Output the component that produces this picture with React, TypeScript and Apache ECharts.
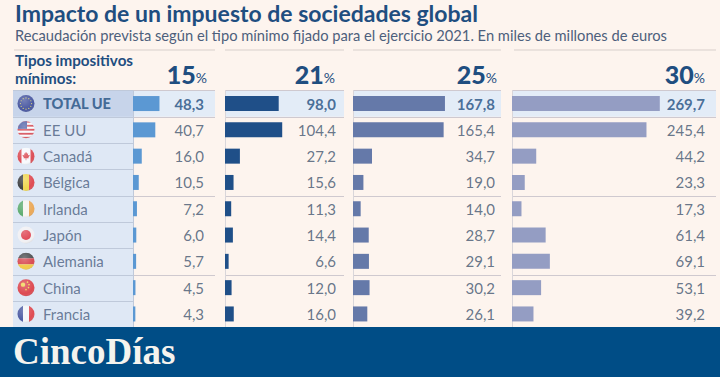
import React, { useEffect, useRef } from "react";
import * as echarts from "echarts";

const countries = ["TOTAL UE", "EE UU", "Canadá", "Bélgica", "Irlanda", "Japón", "Alemania", "China", "Francia"];
const rates = ["15", "21", "25", "30"];
const v15 = [48.3, 40.7, 16.0, 10.5, 7.2, 6.0, 5.7, 4.5, 4.3];
const v21 = [98.0, 104.4, 27.2, 15.6, 11.3, 14.4, 6.6, 12.0, 16.0];
const v25 = [167.8, 165.4, 34.7, 19.0, 14.0, 28.7, 29.1, 30.2, 26.1];
const v30 = [269.7, 245.4, 44.2, 23.3, 17.3, 61.4, 69.1, 53.1, 39.2];
const allValues = [v15, v21, v25, v30];
const barColors = ["#5b98d3", "#1f4f88", "#6579a9", "#949dc3"];

const W = 720, H = 377;
const TOP = 90.4, ROW = 26.3;
const PX_PER_UNIT = 0.548;
const colLeft = [133, 225, 353, 512];
const colRight = [204, 336, 495, 705];
const bandRight = [215, 344, 501, 716];
const rateRight = [207, 335, 497, 705];
const NAVY = "#1f4e80", INK = "#41546f", RULE = "#cfc9cf", BG = "#fdf4ee";
const FONT = "Lato";

const flagSvg = (inner: string) =>
  "image://data:image/svg+xml," +
  encodeURIComponent(
    `<svg xmlns="http://www.w3.org/2000/svg" width="36" height="36" viewBox="0 0 18 18"><defs><clipPath id="c"><circle cx="9" cy="9" r="8.5"/></clipPath><radialGradient id="g" cx="0.4" cy="0.3" r="0.8"><stop offset="0" stop-color="#fff" stop-opacity="0.25"/><stop offset="0.7" stop-color="#fff" stop-opacity="0"/><stop offset="1" stop-color="#000" stop-opacity="0.25"/></radialGradient></defs><g clip-path="url(#c)">${inner}</g><circle cx="9" cy="9" r="8.5" fill="url(#g)"/></svg>`
  );
const flags = [
  `<rect width="18" height="18" fill="#2b3a8f"/>` +
    Array.from({ length: 12 }, (_, i) => {
      const a = (i * Math.PI) / 6;
      return `<circle cx="${9 + 5.6 * Math.cos(a)}" cy="${9 + 5.6 * Math.sin(a)}" r="0.6" fill="#e6d65a"/>`;
    }).join(""),
  `<rect width="18" height="18" fill="#fff"/><rect y="0" width="18" height="1.8" fill="#d8343c"/><rect y="4" width="18" height="1.8" fill="#d8343c"/><rect y="8" width="18" height="1.8" fill="#d8343c"/><rect y="12" width="18" height="1.8" fill="#d8343c"/><rect y="16" width="18" height="2" fill="#d8343c"/><rect width="10" height="8" fill="#3a4a9a"/>`,
  `<rect width="18" height="18" fill="#fff"/><rect width="4.5" height="18" fill="#dc2a30"/><rect x="13.5" width="4.5" height="18" fill="#dc2a30"/><path d="M9 4.500l1.200 2 1-.4-.3 2.200 1.400-.6.400 1-1.300 1.400.3 1H9.300V13H8.700v-1.900H6.500l.3-1L5.500 8.700l.4-1 1.400.6L7 6.100l1 .4z" fill="#dc2a30"/>`,
  `<rect width="6" height="18" fill="#1a1a1a"/><rect x="6" width="6" height="18" fill="#f5d327"/><rect x="12" width="6" height="18" fill="#e0262c"/>`,
  `<rect width="6" height="18" fill="#3f9e50"/><rect x="6" width="6" height="18" fill="#fdf8ef"/><rect x="12" width="6" height="18" fill="#ee9a32"/>`,
  `<rect width="18" height="18" fill="#f6f3f3"/><circle cx="9" cy="9" r="5" fill="#e01e2c"/>`,
  `<rect width="18" height="6" fill="#2a2a2a"/><rect y="6" width="18" height="6" fill="#d8262c"/><rect y="12" width="18" height="6" fill="#f7c51f"/>`,
  `<rect width="18" height="18" fill="#dd2329"/><circle cx="6" cy="6" r="2.200" fill="#f6d32d"/><circle cx="10.500" cy="3.500" r="0.8" fill="#f6d32d"/><circle cx="12" cy="6" r="0.8" fill="#f6d32d"/><circle cx="11.500" cy="9" r="0.8" fill="#f6d32d"/><circle cx="9" cy="11" r="0.8" fill="#f6d32d"/>`,
  `<rect width="6" height="18" fill="#2a3a90"/><rect x="6" width="6" height="18" fill="#fafafa"/><rect x="12" width="6" height="18" fill="#e0262c"/>`,
].map(flagSvg);

const fmt = (v: number) => v.toFixed(1).replace(".", ",");

function buildOption() {
  const grids: any[] = [], xAxes: any[] = [], yAxes: any[] = [], series: any[] = [];
  const plotH = ROW * countries.length;

  // left panel
  grids.push({ left: 13, top: TOP, width: 120, height: plotH });
  xAxes.push({ gridIndex: 0, type: "value", min: 0, max: 120, show: false });
  yAxes.push({ gridIndex: 0, type: "category", inverse: true, data: countries, show: false });
  series.push({
    type: "scatter",
    xAxisIndex: 0,
    yAxisIndex: 0,
    z: 5,
    clip: false,
    symbolSize: 18,
    data: countries.map((c, i) => ({
      value: [13, c],
      symbol: flags[i],
      label: {
        show: true,
        position: "right",
        distance: 8,
        formatter: c,
        fontFamily: FONT,
        fontSize: i === 0 ? 14.6 : 15,
        color: i === 0 ? NAVY : "#4a5f80",
        fontWeight: i === 0 ? 900 : 400,
      },
    })),
  });

  allValues.forEach((vals, k) => {
    const g = k + 1;
    const width = colRight[k] - colLeft[k];
    const max = width / PX_PER_UNIT;
    grids.push({ left: colLeft[k], top: TOP, width, height: plotH });
    xAxes.push({ gridIndex: g, type: "value", min: 0, max, show: false });
    yAxes.push({
      gridIndex: g,
      type: "category",
      inverse: true,
      data: countries,
      axisLine: { show: k > 0, lineStyle: { color: "#d9d6da", width: 1 } },
      axisTick: { show: false },
      axisLabel: { show: false },
      splitLine: { show: false },
    });
    series.push({
      type: "bar",
      xAxisIndex: g,
      yAxisIndex: g,
      barWidth: 15,
      data: vals,
      itemStyle: { color: barColors[k] },
      silent: true,
    });
    series.push({
      type: "scatter",
      xAxisIndex: g,
      yAxisIndex: g,
      symbolSize: 0,
      clip: false,
      data: vals.map((v, i) => ({
        value: [max, i],
        label: {
          show: true,
          position: "left",
          distance: 0,
          formatter: fmt(v),
          fontFamily: FONT,
          fontSize: 15,
          color: i === 0 ? NAVY : INK,
          fontWeight: i === 0 ? 700 : 400,
        },
      })),
    });
  });

  const ruleY = [TOP + ROW, TOP + ROW * 4, TOP + ROW * 7];
  const graphic: any[] = [];
  const line = (x1: number, y1: number, x2: number, y2: number, color = RULE) => ({
    type: "line",
    z: -1,
    shape: { x1, y1, x2, y2 },
    style: { stroke: color, lineWidth: 1 },
  });
  // left panel background
  graphic.push({ type: "rect", z: -3, shape: { x: 13, y: TOP, width: 120, height: plotH }, style: { fill: "#dfe8f5" } });
  graphic.push({ type: "rect", z: -2, shape: { x: 13, y: TOP, width: 120, height: ROW }, style: { fill: "#c7d4ea" } });
  // total row highlight
  colLeft.forEach((x, k) => {
    graphic.push({ type: "rect", z: -3, shape: { x, y: TOP, width: bandRight[k] - x, height: ROW }, style: { fill: "#e3ecf7" } });
    graphic.push(line(x, Math.round(TOP) + 0.5, bandRight[k], Math.round(TOP) + 0.5));
    ruleY.forEach((y) => graphic.push(line(x, Math.round(y) + 0.5, bandRight[k], Math.round(y) + 0.5)));
    graphic.push(line(k === 0 ? 14 : k === 3 ? 514 : x, 50, bandRight[k], 50, "#d8cfcb"));
    graphic.push({
      type: "text",
      z: 3,
      x: rateRight[k],
      y: 86,
      style: {
        text: `{n|${rates[k]}}{p|%}`,
        align: "right",
        verticalAlign: "bottom",
        rich: {
          n: { fontFamily: FONT, fontSize: 25, fontWeight: 900, fill: NAVY, color: NAVY },
          p: { fontFamily: FONT, fontSize: 14, fontWeight: 400, fill: NAVY, color: NAVY, padding: [7, 0, 0, 0] },
        },
      },
    });
  });
  for (let i = 0; i <= countries.length; i++) {
    const y = Math.round(TOP + ROW * i) + 0.5;
    graphic.push(line(13, y, 133, y, "#bfc9da"));
  }
  graphic.push(line(133.5, TOP, 133.5, TOP + plotH, "#bfc9da"));
  // texts
  graphic.push({ type: "text", z: 3, x: 15, y: 1, style: { text: "Impacto de un impuesto de sociedades global", fontFamily: FONT, fontWeight: 700, fontSize: 23, fill: NAVY } });
  graphic.push({ type: "text", z: 3, x: 15, y: 27, style: { text: "Recaudación prevista según el tipo mínimo fijado para el ejercicio 2021. En miles de millones de euros", fontFamily: FONT, fontSize: 14.7, fill: "#4d5f7c" } });
  graphic.push({ type: "text", z: 3, x: 15, y: 52, style: { text: "Tipos impositivos", fontFamily: FONT, fontWeight: 700, fontSize: 15.2, fill: NAVY } });
  graphic.push({ type: "text", z: 3, x: 15, y: 70, style: { text: "mínimos:", fontFamily: FONT, fontWeight: 700, fontSize: 15.2, fill: NAVY } });
  // banner
  graphic.push({ type: "rect", z: 100, shape: { x: 0, y: 327, width: W, height: 50 }, style: { fill: "#004d86" } });
  graphic.push({ type: "text", z: 101, x: 13, y: 333, style: { text: "CincoDías", fontFamily: "Liberation Serif", fontWeight: 700, fontSize: 37, fill: "#f5f3ee" } });

  return {
    animation: false,
    backgroundColor: BG,
    grid: grids,
    xAxis: xAxes,
    yAxis: yAxes,
    series,
    graphic,
  };
}

export default function App() {
  const ref = useRef<HTMLDivElement>(null);
  useEffect(() => {
    document.body.style.margin = "0";
    const chart = echarts.init(ref.current!, undefined, { renderer: "svg" });
    chart.setOption(buildOption() as any);
    return () => chart.dispose();
  }, []);
  return <div ref={ref} style={{ width: W, height: H }} />;
}
